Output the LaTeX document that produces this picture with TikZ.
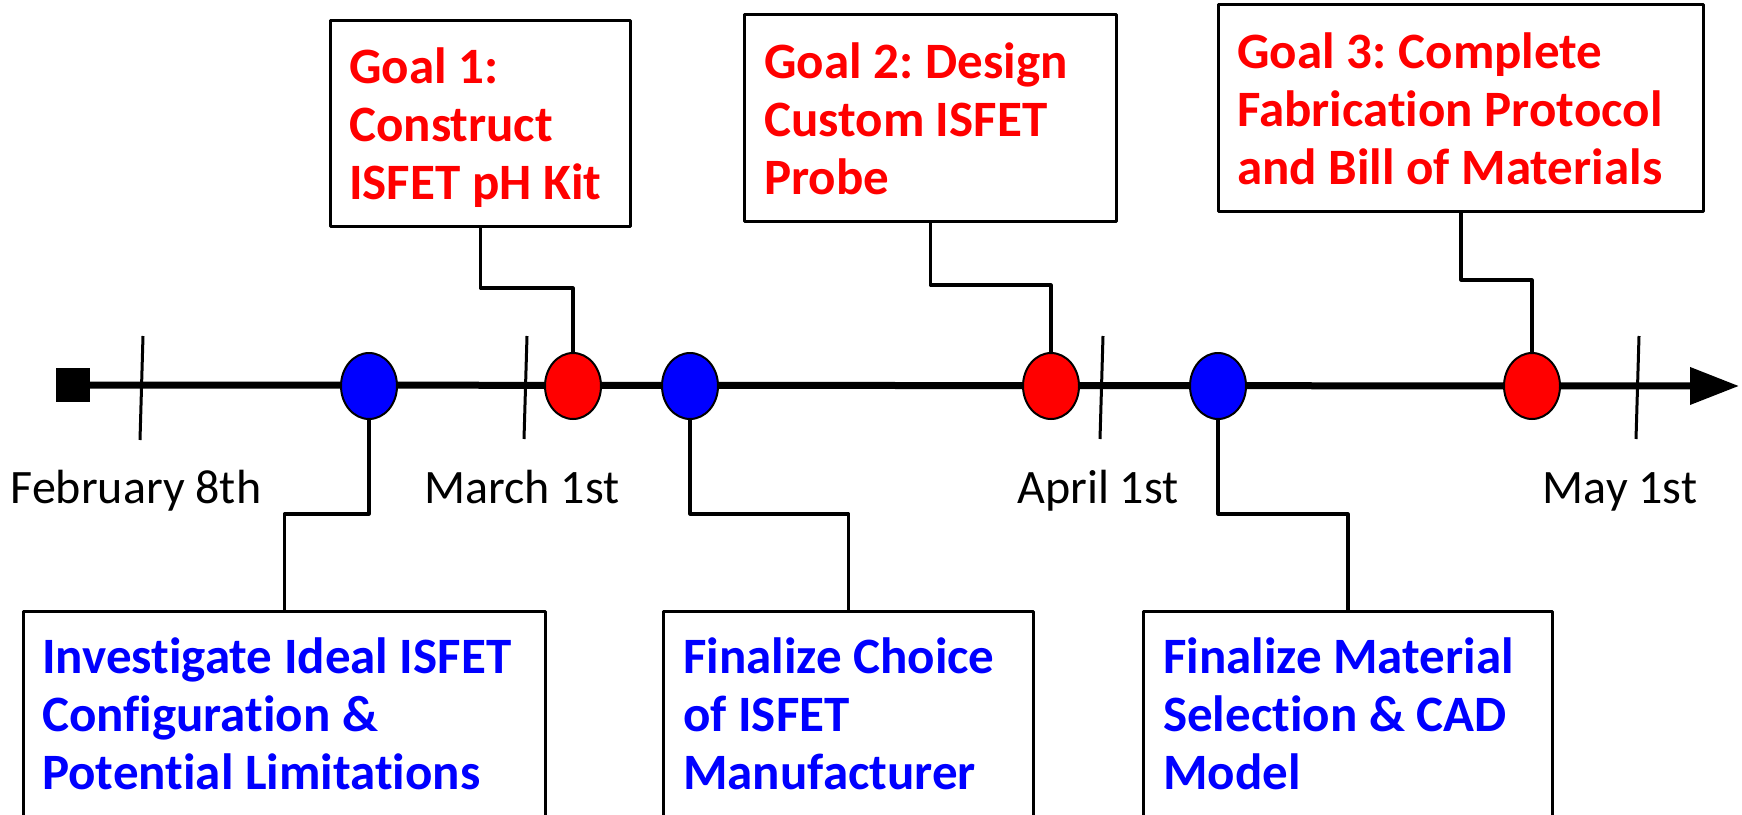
\documentclass[tikz,border=0pt]{standalone}
\usepackage{fontspec}
\setmainfont[Ligatures=NoCommon]{Carlito}
\usetikzlibrary{shapes.geometric,arrows.meta}
\begin{document}
\begin{tikzpicture}[x=1pt,y=-1pt,
  box/.style={draw, line width=3pt, rectangle, anchor=north west, inner sep=0, line join=round},
  goaltext/.style={anchor=north west, inner sep=0, align=left, text={rgb,255:red,255;green,0;blue,0}, font=\fontsize{51}{58}\selectfont\bfseries},
  tasktext/.style={anchor=north west, inner sep=0, align=left, text={rgb,255:red,0;green,0;blue,255}, font=\fontsize{51}{58}\selectfont\bfseries},
  evt/.style={ellipse, draw, line width=2pt, minimum width=56pt, minimum height=66pt, inner sep=0},
  conn/.style={line width=3.2pt, line join=round},
  tickline/.style={line width=3pt},
  datelabel/.style={anchor=base, inner sep=0, font=\fontsize{48}{58}\selectfont}
]
\useasboundingbox (0,0) rectangle (1742,814);

% axis
\node[fill=black, minimum size=34pt, inner sep=0] (start) at (73,385) {};
\coordinate (tip) at (1739,386);
\draw[line width=7pt, -{Triangle[length=49pt,width=36pt]}] (start.center) -- (tip);

% ticks
\draw[tickline] (143,336) -- (140,440);
\draw[tickline] (527,336) -- (524,439);
\draw[tickline] (1103,336) -- (1100,439);
\draw[tickline] (1639,336) -- (1636,439);

% date labels
\node[datelabel] (feb) at (136,503) {February 8th};
\node[datelabel] (mar) at (522,503) {March 1st};
\node[datelabel] (apr) at (1098,503) {April 1st};
\node[datelabel] (may) at (1620,503) {May 1st};

% events
\node[evt, fill={rgb,255:red,0;green,0;blue,255}] (b1) at (369,386) {};
\node[evt, fill={rgb,255:red,255;green,0;blue,0}] (r1) at (573,386) {};
\node[evt, fill={rgb,255:red,0;green,0;blue,255}] (b2) at (690,386) {};
\node[evt, fill={rgb,255:red,255;green,0;blue,0}] (r2) at (1051,386) {};
\node[evt, fill={rgb,255:red,0;green,0;blue,255}] (b3) at (1218,386) {};
\node[evt, fill={rgb,255:red,255;green,0;blue,0}] (r3) at (1532,386) {};

% goal boxes
\node[box, minimum width=300pt, minimum height=206pt] (g1) at (329,19) {};
\node[box, minimum width=372pt, minimum height=207pt] (g2) at (743,13) {};
\node[box, minimum width=485pt, minimum height=207pt] (g3) at (1217,3) {};
\node[goaltext] (g1t) at (349,42.4) {\strut Goal 1:\\Construct\\ISFET pH Kit};
\node[goaltext] (g2t) at (764,37.4) {\strut Goal 2:\kern-3pt{} Design\\Custom ISFET\\Probe};
\node[goaltext] (g3t) at (1237,27.4) {\strut Goal 3:\kern-3pt{} Complete\\Fabrication Protocol\\and Bill of Materials};

% task boxes
\node[box, minimum width=522pt, minimum height=205pt] (t1) at (22,610) {};
\node[box, minimum width=370pt, minimum height=205pt] (t2) at (662,610) {};
\node[box, minimum width=409pt, minimum height=205pt] (t3) at (1142,610) {};
\node[tasktext] (t1t) at (42,632.4) {\strut Investigate Ideal ISFET\\Configuration \&\\Potential Limitations};
\node[tasktext] (t2t) at (683,632.4) {\strut Finalize Choice\\of ISFET\\Manufacturer};
\node[tasktext] (t3t) at (1163,632.4) {\strut Finalize Material\\Selection \& CAD\\Model};

% connectors
\coordinate (h1) at (0,288);
\coordinate (h2) at (0,285);
\coordinate (h3) at (0,280);
\coordinate (hb) at (0,514);
\draw[conn] (g1.south) -- (g1.south |- h1) -| (r1.north);
\draw[conn] (g2.south) -- (g2.south |- h2) -| (r2.north);
\draw[conn] (g3.south) -- (g3.south |- h3) -| (r3.north);
\draw[conn] (b1.south) -- (b1.south |- hb) -| (t1.north);
\draw[conn] (b2.south) -- (b2.south |- hb) -| (t2.north);
\draw[conn] (b3.south) -- (b3.south |- hb) -| (t3.north);
\end{tikzpicture}
\end{document}
